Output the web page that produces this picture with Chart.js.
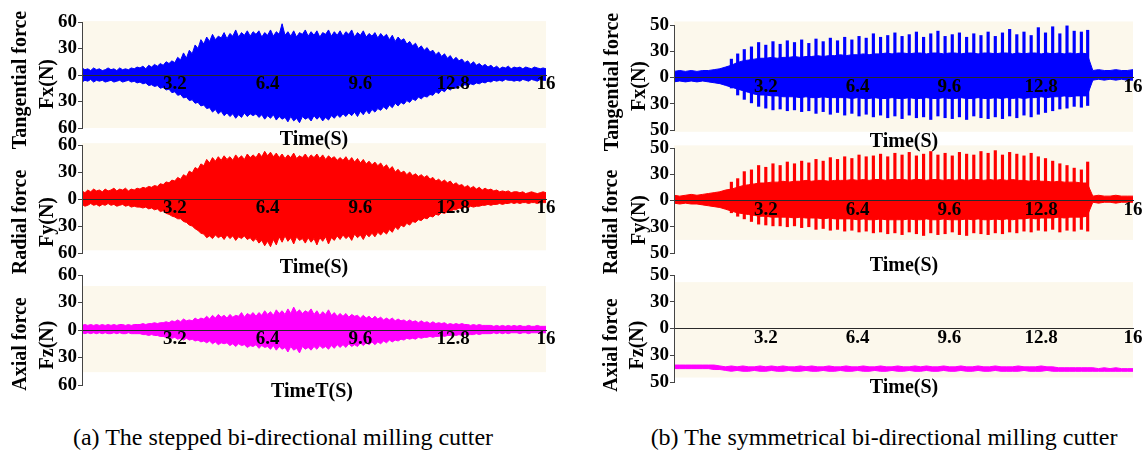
<!DOCTYPE html>
<html><head><meta charset="utf-8">
<script src="https://cdn.jsdelivr.net/npm/chart.js@4.4.0/dist/chart.umd.min.js"></script>
<style>
html,body{margin:0;padding:0;background:#fff;}
body{width:1146px;height:457px;position:relative;overflow:hidden;font-family:"Liberation Serif","Times New Roman",serif;}
canvas{position:absolute;}
.t{position:absolute;font-weight:bold;font-size:20px;white-space:nowrap;line-height:1;color:#000;transform:translate(-50%,-50%);}
.r{transform:translate(-50%,-50%) rotate(-90deg);}
.cap{position:absolute;font-size:24px;white-space:nowrap;line-height:1;color:#000;transform:translate(-50%,-50%);}
</style></head><body>
<div id="wrap"></div>
<script>
// ---------- DATA ----------
const xTickValues = [3.2, 6.4, 9.6, 12.8, 16];
const xTickLabels = ['3.2', '6.4', '9.6', '12.8', '16'];
const yTickValues = [-60, -30, 0, 30, 60];
const yTickLabelsA = ['60', '30', '0', '30', '60'];
const yTickLabelsB = ['50', '30', '0', '30', '50'];

// left column: samples every 0.1 s from 0 to 16 s
const leftTimes = Array.from({length: 161}, (_, i) => i / 10);

const fxA_upper = [8,6,7,5,8,6,7,5,6,8, 6,7,5,8,6,7,6,8,7,9, 8,10,7,11,9,12,10,13,11,15, 13,16,14,20,17,25,19,28,24,34,
  30,40,35,43,38,46,40,44,42,48, 41,47,44,51,43,48,45,50,44,49, 46,50,43,48,45,51,44,49,46,58, 45,49,44,50,43,48,46,51,44,49,
  45,50,43,48,46,51,44,49,45,50, 44,49,46,51,43,48,45,50,43,47, 44,48,42,47,43,46,40,45,38,43, 39,41,35,38,33,36,30,33,28,31,
  26,28,23,26,21,24,19,22,17,20, 16,18,14,16,12,15,11,13,10,12, 9,11,8,10,7,9,8,10,7,9, 8,9,7,9,8,7,9,8,7,8,7];
const fxA_lower = [-8,-6,-7,-5,-8,-6,-7,-6,-8,-7, -6,-8,-7,-6,-8,-7,-6,-8,-7,-9, -8,-10,-9,-12,-11,-13,-12,-15,-14,-17, -16,-20,-19,-23,-22,-26,-25,-29,-28,-32,
  -31,-35,-34,-38,-37,-42,-39,-44,-41,-46, -43,-47,-44,-49,-45,-48,-43,-47,-44,-46, -44,-48,-45,-50,-46,-49,-45,-51,-47,-50, -48,-53,-47,-52,-49,-54,-47,-50,-48,-52,
  -46,-50,-47,-52,-48,-51,-46,-49,-45,-48, -44,-47,-43,-46,-42,-47,-41,-45,-40,-44, -39,-42,-38,-40,-36,-39,-34,-37,-32,-35, -31,-33,-29,-31,-27,-29,-25,-27,-24,-25,
  -22,-23,-19,-21,-17,-19,-15,-17,-14,-15, -12,-13,-11,-12,-10,-11,-9,-10,-8,-9, -7,-8,-6,-7,-6,-7,-5,-6,-6,-7, -6,-7,-5,-6,-7,-5,-6,-7,-5,-6,-6];

const fyA_upper = [9,7,10,8,11,9,10,8,11,9, 10,12,9,11,10,12,9,11,10,12, 11,13,12,14,13,15,14,17,16,19, 18,21,20,24,22,27,25,31,29,35,
  33,39,37,44,40,46,42,47,43,48, 44,47,43,49,45,48,44,50,46,49, 46,51,47,53,48,52,47,51,46,50, 45,49,46,51,45,48,46,50,45,49,
  46,50,45,49,44,48,45,47,43,46, 43,47,42,46,41,45,40,44,39,42, 38,41,37,40,35,38,33,36,30,33, 29,31,27,30,26,28,25,27,24,26,
  22,24,20,22,19,21,18,20,16,18, 15,16,13,15,12,14,11,13,10,12, 10,11,9,10,8,9,8,9,7,8, 8,7,8,6,7,8,7,6,7,8,7];
const fyA_lower = [-6,-8,-7,-5,-7,-6,-8,-6,-7,-5, -7,-6,-8,-7,-6,-8,-7,-9,-8,-9, -9,-10,-9,-11,-10,-12,-11,-14,-13,-16, -17,-19,-20,-22,-22,-25,-26,-29,-30,-33,
  -35,-38,-39,-43,-41,-44,-40,-43,-41,-45, -40,-44,-41,-46,-42,-44,-41,-45,-43,-47, -44,-49,-46,-52,-47,-53,-45,-51,-42,-48, -41,-47,-43,-50,-42,-46,-44,-49,-43,-48,
  -44,-51,-43,-47,-42,-50,-43,-46,-41,-45, -40,-44,-41,-46,-39,-43,-40,-45,-39,-42, -38,-42,-37,-40,-36,-39,-34,-37,-31,-34, -29,-31,-27,-29,-25,-26,-23,-24,-21,-22,
  -19,-20,-17,-18,-15,-16,-14,-14,-12,-12, -10,-11,-9,-10,-8,-9,-8,-8,-7,-7, -6,-7,-6,-6,-5,-6,-5,-5,-4,-5, -4,-5,-4,-4,-5,-4,-4,-5,-4,-4,-4];

const fzA_upper = [5,6,5,6,5,6,5,6,5,6, 5,6,5,6,6,5,6,5,6,6, 6,7,6,7,7,8,7,8,8,9, 8,10,9,11,9,12,10,11,10,13,
  11,13,12,15,12,16,13,17,14,16, 13,17,14,16,15,19,14,18,16,19, 15,19,16,21,17,20,16,22,18,21, 17,23,18,25,19,22,18,21,19,23,
  17,21,16,20,17,22,16,19,15,18, 15,18,14,17,15,16,13,16,13,15, 12,15,12,14,11,13,11,13,10,12, 10,11,9,11,9,10,8,10,8,9,
  7,9,7,8,7,8,6,7,6,7, 6,7,6,6,5,6,5,6,5,5, 5,5,4,5,4,5,4,5,4,5, 4,5,4,4,5,4,4,5,4,4,4];
const fzA_lower = [-3,-4,-3,-4,-3,-4,-3,-4,-3,-4, -4,-3,-4,-3,-4,-4,-3,-4,-4,-4, -4,-5,-5,-6,-5,-6,-6,-7,-7,-8, -7,-9,-8,-10,-9,-11,-9,-11,-10,-12,
  -11,-13,-12,-14,-12,-15,-13,-16,-14,-15, -14,-17,-15,-18,-15,-17,-16,-19,-17,-18, -16,-20,-17,-19,-18,-21,-17,-22,-18,-21, -19,-24,-18,-22,-20,-25,-18,-21,-19,-22,
  -18,-21,-17,-20,-18,-21,-17,-20,-16,-19, -16,-19,-15,-18,-16,-18,-14,-17,-14,-16, -13,-16,-13,-15,-12,-14,-11,-13,-11,-12, -10,-11,-9,-10,-9,-10,-8,-9,-8,-8,
  -7,-8,-7,-7,-6,-7,-6,-6,-5,-6, -5,-6,-5,-5,-5,-5,-4,-5,-4,-4, -4,-4,-3,-4,-3,-4,-3,-4,-3,-3, -3,-4,-3,-3,-4,-3,-3,-3,-4,-3,-3];

// right column: base band every 0.2 s, plus individual spikes
const rightTimes = Array.from({length: 81}, (_, i) => i / 5);

const fxB_upper = [7,8,7,8,7,8,8,9,10,12, 14,17,19,20,21,22,22,23,22,23, 23,24,23,24,24,25,24,25,25,26, 25,26,26,27,26,27,27,28,27,28,
  28,27,28,28,27,28,28,27,28,28, 27,28,28,27,28,28,27,28,28,27, 28,27,28,28,27,28,27,28,27,28, 27,28,27, 8,9,8,8,9,8,8,9];
const fxB_lower = [-5,-4,-5,-4,-5,-4,-5,-6,-7,-9, -11,-13,-15,-17,-19,-20,-20,-21,-21,-22, -22,-22,-23,-22,-23,-23,-22,-23,-23,-23, -23,-24,-23,-24,-24,-23,-24,-24,-23,-24,
  -24,-23,-24,-24,-23,-24,-24,-23,-24,-24, -23,-24,-24,-23,-24,-24,-23,-24,-23,-24, -23,-24,-23,-23,-22,-23,-22,-22,-21,-22, -21,-21,-21, -3,-2,-3,-2,-3,-2,-3,-3];

const spikeTimes = [2.0,2.22,2.45,2.7,2.95,3.2,3.45,3.7,3.95,4.2, 4.45,4.7,4.95,5.2,5.45,5.7,5.95,6.2,6.45,6.7,
  6.95,7.2,7.45,7.7,7.95,8.2,8.45,8.7,8.95,9.2, 9.45,9.7,9.95,10.2,10.45,10.7,10.95,11.2,11.45,11.7,
  11.95,12.2,12.45,12.7,12.95,13.2,13.45,13.7,13.95,14.2,14.42];
const fxB_spikeHigh = [21,27,32,35,40,37,41,38,42,40, 43,39,44,41,45,42,46,43,47,45, 50,46,48,51,47,49,52,46,50,53,
  47,49,51,46,50,48,52,47,51,55, 49,52,48,57,51,58,50,59,53,52,54];
const fxB_spikeLow = [-12,-20,-25,-29,-33,-35,-37,-36,-38,-37, -39,-38,-41,-39,-42,-40,-43,-41,-44,-42, -45,-43,-46,-44,-47,-43,-46,-45,-48,-44,
  -46,-47,-45,-48,-44,-46,-47,-45,-47,-44, -46,-43,-45,-42,-40,-38,-36,-35,-33,-34,-32];

const fyB_upper = [6,5,6,7,6,7,8,9,10,12, 13,15,17,18,19,20,20,21,21,22, 21,22,22,23,22,23,23,22,23,23, 23,24,23,24,23,24,24,23,24,24,
  24,23,24,24,23,24,24,23,24,23, 24,23,24,24,23,24,23,24,23,24, 23,23,22,23,22,22,21,22,21,21, 21,20,20, 5,6,5,5,6,5,5,5];
const fyB_lower = [-3,-4,-3,-4,-4,-5,-6,-7,-8,-10, -12,-14,-15,-16,-17,-18,-18,-19,-19,-19, -19,-20,-19,-20,-20,-20,-21,-20,-21,-21, -21,-21,-22,-21,-22,-22,-21,-22,-22,-22,
  -22,-21,-22,-22,-21,-22,-22,-21,-22,-22, -22,-21,-22,-21,-22,-22,-21,-22,-21,-22, -21,-21,-20,-21,-20,-20,-20,-19,-20,-19, -19,-19,-18, -2,-3,-2,-2,-3,-2,-2,-2];
const fyB_spikeHigh = [21,25,33,35,40,38,42,40,44,42, 45,43,47,45,49,47,50,48,52,50, 51,53,50,54,52,55,51,53,56,52,
  54,51,55,53,52,56,54,57,52,55, 53,51,54,50,48,45,42,40,37,35,44];
const fyB_spikeLow = [-14,-18,-21,-24,-27,-28,-29,-29,-30,-29, -31,-30,-33,-32,-34,-33,-35,-34,-36,-35, -37,-36,-38,-37,-39,-36,-38,-40,-37,-39,
  -38,-36,-39,-40,-37,-38,-39,-37,-38,-36, -37,-35,-36,-34,-35,-33,-36,-34,-35,-33,-35];

const fzB_upper = [-41,-41,-41,-41,-41,-41,-41,-41,-42, -43,-42,-43,-42,-43,-43,-42,-43,-42,-43, -42,-43,-43,-42,-43,-42,-43,-43,-42,-43,
  -43,-42,-43,-43,-42,-43,-43,-42,-43,-43, -42,-43,-43,-42,-43,-42,-43,-43,-42,-43, -43,-42,-43,-43,-42,-43,-43,-42,-43,-43,
  -43,-42,-43,-43,-43,-42,-43,-43,-44,-44, -44,-44,-44,-44,-44,-45,-44,-45,-44,-45,-45,-45];
const fzB_lower = [-45,-45,-45,-45,-45,-45,-45,-46,-46, -47,-48,-47,-48,-48,-47,-48,-48,-47,-48, -48,-47,-48,-48,-47,-48,-48,-47,-48,-48,
  -47,-48,-48,-47,-48,-48,-47,-48,-48,-47, -48,-48,-47,-48,-48,-47,-48,-48,-47,-48, -48,-47,-48,-48,-47,-48,-48,-47,-48,-48,
  -48,-48,-47,-48,-48,-48,-47,-48,-48,-48, -48,-48,-48,-48,-48,-48,-48,-48,-48,-48,-48,-48];

// ---------- LAYOUT / STYLE ----------
const BLUE = '#0000FF', RED = '#FF0000', MAGENTA = '#FF00FF', BG = '#FCF8EC';
const SERIF = "'Liberation Serif','Times New Roman',serif";
Chart.defaults.font.family = SERIF;

const PADL = 60, PADR = 14, PADV = 12;
const plots = [
  {axisX: 82, right: 546, top: 22, bottom: 128, bg: [61, -60], labels: yTickLabelsA,
   sets: () => envelope(leftTimes, fxA_upper, fxA_lower, BLUE)},
  {axisX: 82, right: 546, top: 145, bottom: 253, bg: [62, -57], labels: yTickLabelsA,
   sets: () => envelope(leftTimes, fyA_upper, fyA_lower, RED)},
  {axisX: 82, right: 546, top: 275, bottom: 385, bg: [48, -46], labels: yTickLabelsA,
   sets: () => envelope(leftTimes, fzA_upper, fzA_lower, MAGENTA)},
  {axisX: 674, right: 1133, top: 25, bottom: 130, bg: [64, -62], labels: yTickLabelsB,
   sets: () => envelope(rightTimes, fxB_upper, fxB_lower, BLUE).concat(spikes(fxB_spikeHigh, fxB_spikeLow, BLUE))},
  {axisX: 674, right: 1133, top: 148, bottom: 253, bg: [63, -45], labels: yTickLabelsB,
   sets: () => envelope(rightTimes, fyB_upper, fyB_lower, RED).concat(spikes(fyB_spikeHigh, fyB_spikeLow, RED))},
  {axisX: 674, right: 1133, top: 275, bottom: 382, bg: [52, -55], labels: yTickLabelsB,
   sets: () => envelope(rightTimes, fzB_upper, fzB_lower, MAGENTA)}
];

function envelope(times, up, lo, color) {
  return [
    {type: 'line', data: times.map((t, i) => ({x: t, y: up[i]})), borderColor: color, backgroundColor: color,
     borderWidth: 1, pointRadius: 0, fill: '+1', tension: 0, order: 2},
    {type: 'line', data: times.map((t, i) => ({x: t, y: lo[i]})), borderColor: color, backgroundColor: color,
     borderWidth: 1, pointRadius: 0, fill: false, tension: 0, order: 2}
  ];
}
function spikes(hi, lo, color) {
  return [{type: 'bar', data: spikeTimes.map((t, i) => ({x: t, y: [lo[i], hi[i]]})), backgroundColor: color,
    borderWidth: 0, barThickness: 2.5, grouped: false, order: 1}];
}

const bgPlugin = {
  id: 'bgBand',
  beforeDraw(chart, args, opts) {
    const {ctx, chartArea, scales} = chart;
    const y1 = scales.y.getPixelForValue(opts.top), y2 = scales.y.getPixelForValue(opts.bottom);
    ctx.save();
    ctx.fillStyle = opts.color;
    ctx.fillRect(chartArea.left, y1, chartArea.right - chartArea.left, y2 - y1);
    ctx.restore();
  }
};

const wrap = document.getElementById('wrap');
plots.forEach(p => {
  const c = document.createElement('canvas');
  const w = PADL + (p.right - p.axisX) + PADR, h = (p.bottom - p.top) + 2 * PADV;
  c.width = w; c.height = h;
  c.style.left = (p.axisX - PADL) + 'px'; c.style.top = (p.top - PADV) + 'px';
  c.style.width = w + 'px'; c.style.height = h + 'px';
  wrap.appendChild(c);
  new Chart(c, {
    type: 'line',
    data: {datasets: p.sets()},
    plugins: [bgPlugin],
    options: {
      responsive: false, animation: false, devicePixelRatio: 1,
      layout: {padding: {left: 0, right: PADR, top: PADV, bottom: PADV}},
      plugins: {legend: {display: false}, tooltip: {enabled: false}, bgBand: {top: p.bg[0], bottom: p.bg[1], color: BG}},
      scales: {
        x: {type: 'linear', min: 0, max: 16, offset: false, position: {y: 0},
            afterBuildTicks: s => { s.ticks = xTickValues.map(v => ({value: v})); },
            afterFit: s => { s.height = 0; },
            ticks: {z: 2, autoSkip: false, maxRotation: 0, padding: 0, color: '#000',
                    font: {size: 19, weight: 'bold', lineHeight: 1}, callback: (v, i) => xTickLabels[i]},
            grid: {display: false, drawTicks: false},
            border: {z: 1, display: true, color: '#2a2a2a', width: 1}},
        y: {min: -60, max: 60,
            afterBuildTicks: s => { s.ticks = yTickValues.map(v => ({value: v})); },
            afterFit: s => { s.width = PADL; },
            ticks: {padding: 1, color: '#000', font: {size: 19, weight: 'bold', lineHeight: 1},
                    callback: (v, i) => p.labels[i]},
            grid: {display: true, drawOnChartArea: false, drawTicks: true, tickLength: 4, color: '#444'},
            border: {z: 1, display: true, color: '#444', width: 1}}
      }
    }
  });
});

// ---------- TEXT ----------
const texts = [
  ['Tangential force', 19, 80, true], ['Fx(N)', 46, 84, true], ['Time(S)', 314, 138, false],
  ['Radial force', 19, 222, true], ['Fy(N)', 46, 222, true], ['Time(S)', 314, 266, false],
  ['Axial force', 19, 344, true], ['Fz(N)', 46, 345, true], ['TimeT(S)', 312, 390, false],
  ['Tangential force', 611, 82, true], ['Fx(N)', 638, 86, true], ['Time(S)', 904, 140, false],
  ['Radial force', 610, 222, true], ['Fy(N)', 638, 220, true], ['Time(S)', 904, 264, false],
  ['Axial force', 610, 345, true], ['Fz(N)', 636, 345, true], ['Time(S)', 904, 386, false]
];
texts.forEach(([s, x, y, rot]) => {
  const d = document.createElement('div');
  d.className = 't' + (rot ? ' r' : '');
  d.textContent = s; d.style.left = x + 'px'; d.style.top = y + 'px';
  document.body.appendChild(d);
});
[['(a) The stepped bi-directional milling cutter', 283, 437], ['(b) The symmetrical bi-directional milling cutter', 884, 437]]
  .forEach(([s, x, y]) => {
    const d = document.createElement('div');
    d.className = 'cap'; d.textContent = s; d.style.left = x + 'px'; d.style.top = y + 'px';
    document.body.appendChild(d);
  });
</script>
</body></html>
